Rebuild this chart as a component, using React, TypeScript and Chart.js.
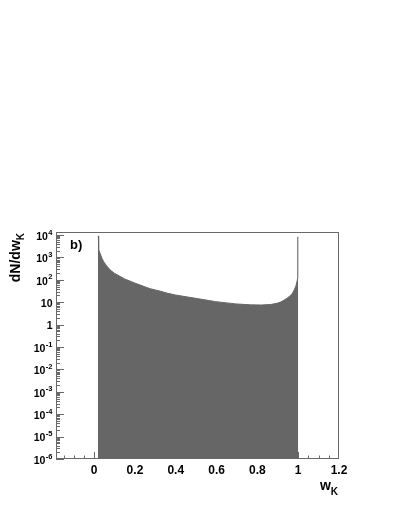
import React, { useEffect, useRef } from "react";
import { Chart, registerables } from "chart.js";

Chart.register(...registerables);

// Histogram outline: w_K bin positions and dN/dw_K values
const wK = [
  0.018, 0.021, 0.022, 0.03, 0.038, 0.046, 0.06, 0.079, 0.1, 0.128, 0.15, 0.177,
  0.2, 0.226, 0.25, 0.275, 0.3, 0.325, 0.36, 0.398, 0.45, 0.497, 0.55, 0.595,
  0.65, 0.694, 0.73, 0.767, 0.82, 0.866, 0.9, 0.915, 0.93, 0.948, 0.962, 0.972,
  0.982, 0.989, 0.994, 0.997, 0.998, 1.0,
];
const dNdw = [
  9000, 9000, 2260, 1450, 920, 655, 430, 272, 193, 141, 108, 87,
  71, 58, 48, 40, 35, 31, 25, 21, 17.5, 14.9, 12.4, 10.6,
  9.3, 8.4, 8.0, 7.6, 7.5, 7.9, 9.1, 10.3, 12.2, 15.6, 20, 25,
  38, 53, 83, 115, 8100, 8100,
];

const xTickValues = [0, 0.2, 0.4, 0.6, 0.8, 1, 1.2];
const xTickLabels = ["0", "0.2", "0.4", "0.6", "0.8", "1", "1.2"];
const yTickValues = [1e-6, 1e-5, 1e-4, 1e-3, 1e-2, 1e-1, 1, 10, 1e2, 1e3, 1e4];
const yTickBase = ["10", "10", "10", "10", "10", "10", "1", "10", "10", "10", "10"];
const yTickExp = ["-6", "-5", "-4", "-3", "-2", "-1", "", "", "2", "3", "4"];

const X_MIN = -0.187;
const X_MAX = 1.2;
const Y_MIN = 1e-6;
const Y_MAX = 1.36e4;
const FONT = "'Liberation Sans', Arial, Helvetica, sans-serif";
const FRAME = "rgb(105,105,105)";
const FILL = "rgb(102,102,102)";

const rootDecor = {
  id: "rootDecor",
  beforeDatasetsDraw(chart: any) {
    const { ctx, chartArea } = chart;
    const xs = chart.scales.x;
    const ys = chart.scales.y;
    ctx.save();
    ctx.strokeStyle = FRAME;
    ctx.lineWidth = 1;
    // x ticks (inward, from bottom)
    for (let i = -3; i <= 24; i++) {
      const v = i * 0.05;
      if (v < X_MIN || v > X_MAX) continue;
      const px = Math.round(xs.getPixelForValue(v)) + 0.5;
      const len = ((i % 4) + 4) % 4 === 0 ? 7 : 3.5;
      ctx.beginPath();
      ctx.moveTo(px, chartArea.bottom);
      ctx.lineTo(px, chartArea.bottom - len);
      ctx.stroke();
    }
    // y ticks (inward, from left)
    for (let e = -6; e <= 4; e++) {
      const base = Math.pow(10, e);
      const py = Math.round(ys.getPixelForValue(base)) + 0.5;
      ctx.beginPath();
      ctx.moveTo(chartArea.left, py);
      ctx.lineTo(chartArea.left + 8, py);
      ctx.stroke();
      for (let k = 2; k <= 9; k++) {
        if (base * k > Y_MAX) continue;
        const pm = Math.round(ys.getPixelForValue(base * k)) + 0.5;
        ctx.beginPath();
        ctx.moveTo(chartArea.left, pm);
        ctx.lineTo(chartArea.left + 4, pm);
        ctx.stroke();
      }
    }
    ctx.restore();
  },
  afterDatasetsDraw(chart: any) {
    const { ctx, chartArea } = chart;
    const ys = chart.scales.y;
    ctx.save();
    // frame
    ctx.strokeStyle = FRAME;
    ctx.lineWidth = 1;
    ctx.strokeRect(
      Math.round(chartArea.left) + 0.5,
      Math.round(chartArea.top) + 0.5,
      Math.round(chartArea.right - chartArea.left) - 1,
      Math.round(chartArea.bottom - chartArea.top) - 1
    );
    ctx.fillStyle = "#000";
    // y tick labels: 10 with raised exponent
    const right = 52.5;
    yTickValues.forEach((v, i) => {
      const py = ys.getPixelForValue(v) + 2;
      ctx.textAlign = "right";
      ctx.textBaseline = "middle";
      let expW = 0;
      if (yTickExp[i]) {
        ctx.font = `bold 7.5px ${FONT}`;
        expW = ctx.measureText(yTickExp[i]).width;
        ctx.fillText(yTickExp[i], right, py - 4.5);
      }
      ctx.font = `bold 10.5px ${FONT}`;
      ctx.fillText(yTickBase[i], right - expW - (expW ? 0.5 : 0), py);
    });
    // x title: w_K, right aligned at frame right
    ctx.textBaseline = "alphabetic";
    ctx.font = `bold 10px ${FONT}`;
    const kW = ctx.measureText("K").width;
    ctx.textAlign = "right";
    ctx.fillText("K", chartArea.right - 1, 495);
    ctx.font = `bold 14px ${FONT}`;
    ctx.fillText("w", chartArea.right - 1 - kW, 490);
    // y title: dN/dw_K rotated
    ctx.save();
    ctx.translate(20, chartArea.top + 1);
    ctx.rotate(-Math.PI / 2);
    ctx.font = `bold 10px ${FONT}`;
    const kW2 = ctx.measureText("K").width;
    ctx.textAlign = "right";
    ctx.fillText("K", 0, 4);
    ctx.font = `bold 14px ${FONT}`;
    ctx.fillText("dN/dw", -kW2, 0);
    ctx.restore();
    // panel label
    ctx.font = `bold 13px ${FONT}`;
    ctx.textAlign = "left";
    ctx.fillText("b)", 70, 249);
    ctx.restore();
  },
};

export default function App() {
  const ref = useRef<HTMLCanvasElement | null>(null);
  useEffect(() => {
    if (!ref.current) return;
    const chart = new Chart(ref.current, {
      type: "line",
      data: {
        datasets: [
          {
            data: wK.map((w, i) => ({ x: w, y: dNdw[i] })),
            fill: "start",
            backgroundColor: FILL,
            borderColor: FILL,
            borderWidth: 1,
            pointRadius: 0,
            tension: 0,
          },
        ],
      },
      options: {
        animation: false,
        responsive: false,
        devicePixelRatio: 1,
        layout: { padding: { top: 232, right: 68, left: 0, bottom: 0 } },
        plugins: { legend: { display: false }, tooltip: { enabled: false }, title: { display: false } },
        scales: {
          x: {
            type: "linear",
            min: X_MIN,
            max: X_MAX,
            grid: { display: false, drawTicks: false },
            border: { display: false },
            afterBuildTicks: (s: any) => {
              s.ticks = xTickValues.map((v) => ({ value: v }));
            },
            afterFit: (s: any) => {
              s.height = 68;
            },
            ticks: {
              padding: 4,
              maxRotation: 0,
              autoSkip: false,
              color: "#000",
              font: { family: FONT, size: 12, weight: "bold" },
              callback: (v: any) => {
                const i = xTickValues.findIndex((t) => Math.abs(t - Number(v)) < 1e-9);
                return i >= 0 ? xTickLabels[i] : "";
              },
            },
          },
          y: {
            type: "logarithmic",
            min: Y_MIN,
            max: Y_MAX,
            grid: { display: false, drawTicks: false },
            border: { display: false },
            afterBuildTicks: (s: any) => {
              s.ticks = yTickValues.map((v) => ({ value: v }));
            },
            afterFit: (s: any) => {
              s.width = 56;
            },
            ticks: { display: false },
          },
        },
      },
      plugins: [rootDecor],
    } as any);
    return () => chart.destroy();
  }, []);
  return (
    <div style={{ position: "absolute", left: 0, top: 0, width: 407, height: 527, background: "#fff" }}>
      <canvas ref={ref} width={407} height={527} style={{ display: "block", width: 407, height: 527 }} />
    </div>
  );
}
